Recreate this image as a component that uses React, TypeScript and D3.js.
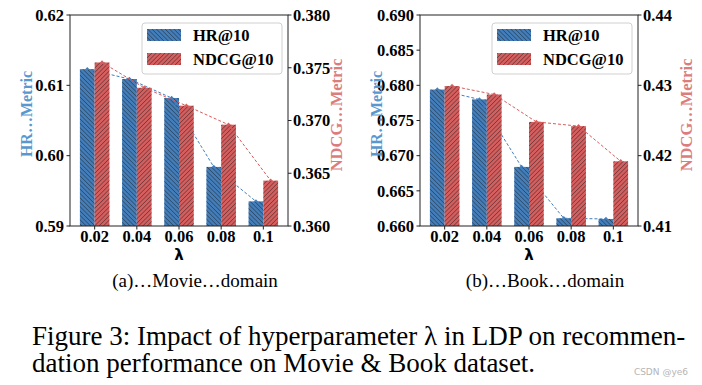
import { scaleLinear } from "d3";

// λ values on the x axis
const lambdas = ["0.02", "0.04", "0.06", "0.08", "0.1"];

// (a) Movie domain
const movieHR = [0.6123, 0.6109, 0.6082, 0.5984, 0.5935];
const movieNDCG = [0.3755, 0.3731, 0.3714, 0.3696, 0.3643];
const movieHRTicks = [0.59, 0.6, 0.61, 0.62];
const movieNDCGTicks = [0.36, 0.365, 0.37, 0.375, 0.38];

// (b) Book domain
const bookHR = [0.6794, 0.678, 0.6684, 0.6611, 0.661];
const bookNDCG = [0.4299, 0.4287, 0.4248, 0.4242, 0.4192];
const bookHRTicks = [0.66, 0.665, 0.67, 0.675, 0.68, 0.685, 0.69];
const bookNDCGTicks = [0.41, 0.42, 0.43, 0.44];

const legendLabels = ["HR@10", "NDCG@10"];

const BLUE = "#437ebb";
const RED = "#d65e5e";
const serif = (size: number, bold = false) => ({
  fontFamily: "Liberation Serif",
  fontSize: size,
  fontWeight: bold ? 700 : 400,
});

type PanelProps = {
  x0: number;
  hr: number[];
  ndcg: number[];
  hrTicks: number[];
  ndcgTicks: number[];
  hrDigits: number;
  ndcgDigits: number;
  caption: string;
};

const Panel = ({ x0, hr, ndcg, hrTicks, ndcgTicks, hrDigits, ndcgDigits, caption }: PanelProps) => {
  const left = 70;
  const right = 288;
  const top = 15;
  const bottom = 226;
  const bw = 0.35;

  const xScale = scaleLinear().domain([-0.585, 4.585]).range([left, right]);
  const yLeft = scaleLinear()
    .domain([hrTicks[0], hrTicks[hrTicks.length - 1]])
    .range([bottom, top]);
  const yRight = scaleLinear()
    .domain([ndcgTicks[0], ndcgTicks[ndcgTicks.length - 1]])
    .range([bottom, top]);
  const barW = xScale(bw) - xScale(0);

  const hrPts = hr.map((v, i) => [xScale(i - bw / 2), yLeft(v)]);
  const ndcgPts = ndcg.map((v, i) => [xScale(i + bw / 2), yRight(v)]);
  const toPath = (pts: number[][]) => pts.map((p, i) => `${i ? "L" : "M"}${p[0]},${p[1]}`).join("");
  const bump = (x: number, y: number) => `M${x - 2.5},${y + 0.5}L${x},${y - 2.2}L${x + 2.5},${y + 0.5}Z`;

  return (
    <g transform={`translate(${x0},0)`}>
      {/* blue bars + line */}
      {hr.map((v, i) => (
        <g key={`hr-${i}`}>
          <rect x={xScale(i - bw)} y={yLeft(v)} width={barW} height={bottom - yLeft(v)} fill={BLUE} />
          <rect x={xScale(i - bw)} y={yLeft(v)} width={barW} height={bottom - yLeft(v)} fill="url(#hatchBack)" />
          <path d={bump(hrPts[i][0], hrPts[i][1])} fill={BLUE} />
        </g>
      ))}
      <path d={toPath(hrPts)} fill="none" stroke={BLUE} strokeWidth={1} strokeDasharray="3,2" />

      {/* red bars + line */}
      {ndcg.map((v, i) => (
        <g key={`nd-${i}`}>
          <rect x={xScale(i)} y={yRight(v)} width={barW} height={bottom - yRight(v)} fill={RED} />
          <rect x={xScale(i)} y={yRight(v)} width={barW} height={bottom - yRight(v)} fill="url(#hatchFwd)" />
          <path d={bump(ndcgPts[i][0], ndcgPts[i][1])} fill={RED} />
        </g>
      ))}
      <path d={toPath(ndcgPts)} fill="none" stroke={RED} strokeWidth={1} strokeDasharray="3,2" />

      {/* frame */}
      <rect x={left} y={top} width={right - left} height={bottom - top} fill="none" stroke="#222" strokeWidth={1} />

      {/* left axis */}
      {hrTicks.map((t) => (
        <g key={`lt-${t}`} transform={`translate(${left},${yLeft(t)})`}>
          <line x1={-3.5} x2={0} stroke="#222" />
          <text x={-6} dy="0.35em" textAnchor="end" style={serif(16.5, true)}>
            {t.toFixed(hrDigits)}
          </text>
        </g>
      ))}

      {/* right axis */}
      {ndcgTicks.map((t) => (
        <g key={`rt-${t}`} transform={`translate(${right},${yRight(t)})`}>
          <line x1={0} x2={3.5} stroke="#222" />
          <text x={5} dy="0.35em" style={serif(16.5, true)}>
            {t.toFixed(ndcgDigits)}
          </text>
        </g>
      ))}

      {/* x axis */}
      {lambdas.map((l, i) => (
        <g key={`xt-${l}`} transform={`translate(${xScale(i)},${bottom})`}>
          <line y1={0} y2={3.5} stroke="#222" />
          <text y={16} textAnchor="middle" style={serif(16.5, true)}>
            {l}
          </text>
        </g>
      ))}
      <text
        x={(left + right) / 2}
        y={260}
        textAnchor="middle"
        style={{ fontFamily: "DejaVu Sans", fontWeight: 700, fontSize: 15 }}
      >
        λ
      </text>

      {/* axis titles */}
      <text transform="translate(32,114) rotate(-90)" textAnchor="middle" style={serif(16, true)} fill="#5b97cf">
        HR…Metric
      </text>
      <text transform="translate(342,115) rotate(-90)" textAnchor="middle" style={serif(16.5, true)} fill="#dc7d7d">
        NDCG…Metric
      </text>

      {/* legend */}
      <rect x={142} y={23} width={140} height={51} rx={3} fill="white" fillOpacity={0.85} stroke="#d0d0d0" />
      {legendLabels.map((lab, i) => (
        <g key={lab} transform={`translate(147,${29 + i * 24})`}>
          <rect width={34} height={12} fill={i === 0 ? BLUE : RED} />
          <rect width={34} height={12} fill={i === 0 ? "url(#hatchBack)" : "url(#hatchFwd)"} />
          <text x={46} y={12} style={serif(16.5, true)}>
            {lab}
          </text>
        </g>
      ))}

      {/* subcaption */}
      <text x={195} y={287} textAnchor="middle" style={serif(19)}>
        {caption}
      </text>
    </g>
  );
};

export default function App() {
  return (
    <svg width={702} height={385} style={{ position: "absolute", left: 0, top: 0, background: "white" }}>
      <defs>
        <pattern id="hatchBack" width={3.1} height={3.1} patternUnits="userSpaceOnUse" patternTransform="rotate(-45)">
          <line x1={0} y1={-1} x2={0} y2={5} stroke="#1a1a1a" strokeWidth={0.8} />
        </pattern>
        <pattern id="hatchFwd" width={3.1} height={3.1} patternUnits="userSpaceOnUse" patternTransform="rotate(45)">
          <line x1={0} y1={-1} x2={0} y2={5} stroke="#1a1a1a" strokeWidth={0.8} />
        </pattern>
      </defs>
      <rect width={702} height={385} fill="white" />
      <Panel
        x0={0}
        hr={movieHR}
        ndcg={movieNDCG}
        hrTicks={movieHRTicks}
        ndcgTicks={movieNDCGTicks}
        hrDigits={2}
        ndcgDigits={3}
        caption="(a)…Movie…domain"
      />
      <Panel
        x0={350}
        hr={bookHR}
        ndcg={bookNDCG}
        hrTicks={bookHRTicks}
        ndcgTicks={bookNDCGTicks}
        hrDigits={3}
        ndcgDigits={2}
        caption="(b)…Book…domain"
      />
      <text x={32} y={345} style={serif(27)}>
        Figure 3: Impact of hyperparameter λ in LDP on recommen-
      </text>
      <text x={32} y={372} style={serif(27)}>
        dation performance on Movie &amp; Book dataset.
      </text>
      <text x={688} y={375} textAnchor="end" style={{ fontFamily: "DejaVu Sans", fontSize: 9 }} fill="#b5b5b5">
        CSDN @ye6
      </text>
    </svg>
  );
}
